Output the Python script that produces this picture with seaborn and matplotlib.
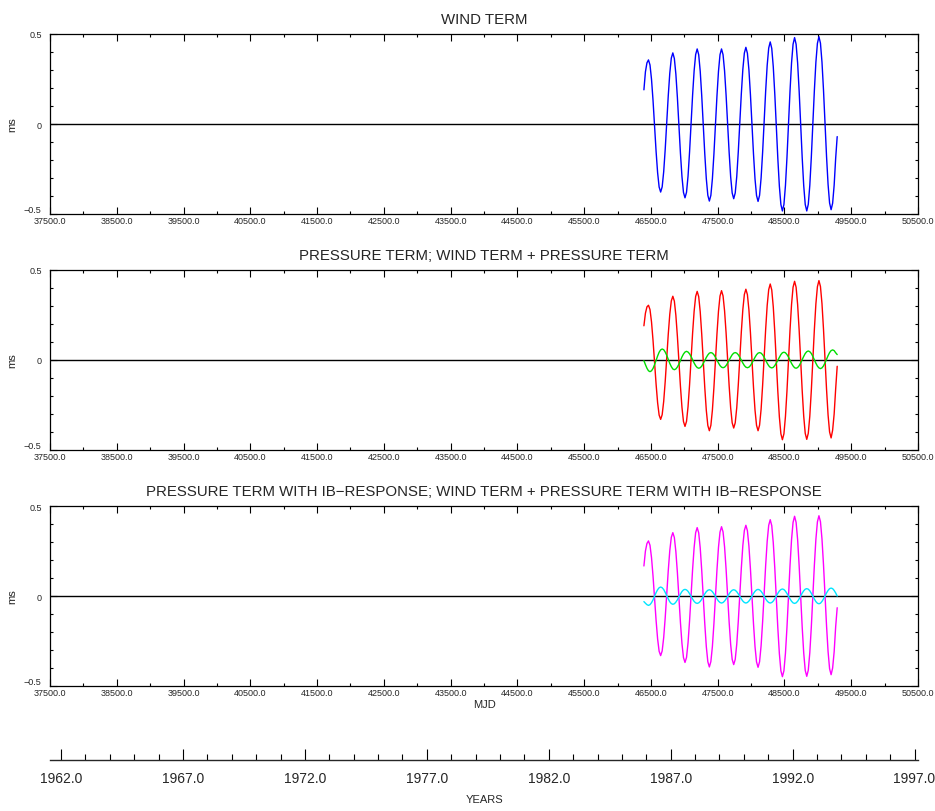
import numpy as np
import pandas as pd
import matplotlib
matplotlib.use("Agg")
import matplotlib.pyplot as plt
import seaborn as sns
from matplotlib.ticker import MultipleLocator, FixedLocator, FixedFormatter

sns.set_style("white")
plt.rcParams['font.family'] = ['Liberation Sans', 'DejaVu Sans']

# --- sampling grid of the series (MJD) ---
mjd_start, mjd_end, n_samples = 46395.0, 49290.0, 128
mjd = np.linspace(mjd_start, mjd_end, n_samples)

# --- values (ms) ---
wind = [
    0.19, 0.29, 0.34, 0.356,
    0.328, 0.248, 0.130, -0.011, -0.152, -0.270, -0.350, -0.378,
    -0.349, -0.265, -0.140, 0.009, 0.157, 0.282, 0.366, 0.395,
    0.364, 0.277, 0.147, -0.008, -0.162, -0.292, -0.380, -0.41,
    -0.379, -0.289, -0.155, 0.004, 0.162, 0.296, 0.386, 0.417,
    0.385, 0.293, 0.156, -0.006, -0.167, -0.304, -0.396, -0.428,
    -0.396, -0.304, -0.167, -0.006, 0.156, 0.293, 0.385, 0.417,
    0.385, 0.295, 0.160, 0.001, -0.158, -0.293, -0.383, -0.415,
    -0.383, -0.292, -0.156, 0.006, 0.167, 0.303, 0.394, 0.426,
    0.393, 0.301, 0.162, -0.002, -0.166, -0.305, -0.397, -0.43,
    -0.396, -0.300, -0.157, 0.013, 0.183, 0.326, 0.422, 0.456,
    0.420, 0.318, 0.166, -0.014, -0.193, -0.345, -0.447, -0.483,
    -0.447, -0.342, -0.186, -0.002, 0.183, 0.339, 0.443, 0.48,
    0.443, 0.339, 0.183, -0.002, -0.186, -0.342, -0.447, -0.483,
    -0.446, -0.341, -0.184, 0.001, 0.186, 0.343, 0.448, 0.485,
    0.449, 0.344, 0.189, 0.005, -0.180, -0.335, -0.439, -0.476,
    -0.44, -0.34, -0.19, -0.07,
]

pressure = [
    -0.004, -0.026, -0.046, -0.060, -0.065,
    -0.060, -0.047, -0.026, -0.002, 0.022, 0.043, 0.056, 0.061,
    0.057, 0.044, 0.026, 0.004, -0.019, -0.037, -0.050, -0.054,
    -0.050, -0.039, -0.023, -0.003, 0.017, 0.033, 0.044, 0.048,
    0.044, 0.034, 0.019, 0.001, -0.017, -0.032, -0.042, -0.046,
    -0.043, -0.034, -0.019, -0.003, 0.014, 0.028, 0.038, 0.041,
    0.038, 0.029, 0.015, -0.001, -0.017, -0.031, -0.040, -0.043,
    -0.040, -0.031, -0.017, -0.001, 0.015, 0.029, 0.038, 0.041,
    0.038, 0.029, 0.015, -0.001, -0.017, -0.031, -0.040, -0.043,
    -0.040, -0.031, -0.017, -0.001, 0.015, 0.029, 0.038, 0.041,
    0.038, 0.029, 0.015, -0.002, -0.018, -0.032, -0.041, -0.044,
    -0.041, -0.031, -0.017, -0.001, 0.016, 0.030, 0.040, 0.043,
    0.040, 0.030, 0.016, -0.002, -0.019, -0.033, -0.043, -0.046,
    -0.042, -0.032, -0.016, 0.002, 0.020, 0.036, 0.046, 0.050,
    0.046, 0.036, 0.020, 0.001, -0.018, -0.034, -0.044, -0.048,
    -0.044, -0.033, -0.016, 0.004, 0.024, 0.041, 0.052, 0.056,
    0.052, 0.040, 0.030,
]

wind_pressure = [
    0.19, 0.26, 0.295, 0.304,
    0.280, 0.211, 0.108, -0.013, -0.134, -0.237, -0.306, -0.330,
    -0.304, -0.230, -0.119, 0.012, 0.143, 0.254, 0.328, 0.354,
    0.327, 0.248, 0.131, -0.008, -0.146, -0.263, -0.342, -0.369,
    -0.341, -0.259, -0.138, 0.006, 0.150, 0.271, 0.353, 0.381,
    0.352, 0.268, 0.142, -0.006, -0.154, -0.280, -0.364, -0.393,
    -0.363, -0.279, -0.153, -0.004, 0.145, 0.271, 0.355, 0.385,
    0.356, 0.273, 0.150, 0.004, -0.143, -0.266, -0.349, -0.378,
    -0.349, -0.265, -0.140, 0.008, 0.155, 0.280, 0.364, 0.393,
    0.363, 0.278, 0.151, 0.000, -0.151, -0.278, -0.363, -0.393,
    -0.362, -0.274, -0.141, 0.015, 0.171, 0.303, 0.391, 0.422,
    0.389, 0.295, 0.155, -0.011, -0.176, -0.316, -0.410, -0.443,
    -0.410, -0.314, -0.172, -0.003, 0.166, 0.308, 0.404, 0.437,
    0.404, 0.308, 0.166, -0.002, -0.170, -0.312, -0.408, -0.441,
    -0.407, -0.312, -0.169, 0.000, 0.169, 0.312, 0.407, 0.441,
    0.408, 0.313, 0.171, 0.004, -0.163, -0.305, -0.400, -0.433,
    -0.39, -0.30, -0.16, -0.035,
]

pressure_ib = [
    -0.031, -0.040, -0.048, -0.052,
    -0.048, -0.037, -0.021, -0.001, 0.019, 0.035, 0.046, 0.050,
    0.046, 0.036, 0.020, 0.002, -0.016, -0.032, -0.042, -0.046,
    -0.043, -0.034, -0.021, -0.005, 0.011, 0.025, 0.034, 0.037,
    0.034, 0.026, 0.013, -0.002, -0.017, -0.030, -0.038, -0.041,
    -0.038, -0.030, -0.018, -0.003, 0.012, 0.024, 0.032, 0.035,
    0.032, 0.024, 0.012, -0.002, -0.016, -0.028, -0.036, -0.039,
    -0.036, -0.028, -0.016, -0.002, 0.012, 0.024, 0.032, 0.035,
    0.032, 0.024, 0.012, -0.002, -0.016, -0.028, -0.036, -0.039,
    -0.036, -0.028, -0.016, -0.001, 0.014, 0.026, 0.034, 0.037,
    0.034, 0.026, 0.014, -0.001, -0.016, -0.028, -0.036, -0.039,
    -0.036, -0.028, -0.015, 0.000, 0.015, 0.028, 0.036, 0.039,
    0.036, 0.027, 0.014, -0.001, -0.016, -0.029, -0.038, -0.041,
    -0.038, -0.029, -0.016, 0.000, 0.016, 0.029, 0.038, 0.041,
    0.038, 0.029, 0.015, -0.001, -0.017, -0.031, -0.040, -0.043,
    -0.040, -0.030, -0.016, 0.001, 0.017, 0.031, 0.041, 0.044,
    0.041, 0.031, 0.017, 0.000,
]

wind_pressure_ib = [
    0.167, 0.25, 0.292, 0.306,
    0.282, 0.213, 0.110, -0.013, -0.135, -0.238, -0.307, -0.331,
    -0.305, -0.231, -0.120, 0.011, 0.141, 0.252, 0.326, 0.352,
    0.325, 0.246, 0.130, -0.009, -0.147, -0.264, -0.342, -0.369,
    -0.341, -0.259, -0.138, 0.006, 0.149, 0.270, 0.352, 0.380,
    0.351, 0.267, 0.141, -0.007, -0.155, -0.281, -0.365, -0.394,
    -0.364, -0.280, -0.154, -0.005, 0.145, 0.271, 0.355, 0.385,
    0.356, 0.273, 0.149, 0.002, -0.145, -0.269, -0.352, -0.381,
    -0.352, -0.268, -0.142, 0.006, 0.154, 0.280, 0.364, 0.393,
    0.363, 0.277, 0.150, -0.002, -0.153, -0.281, -0.366, -0.396,
    -0.365, -0.276, -0.143, 0.014, 0.171, 0.304, 0.393, 0.424,
    0.391, 0.296, 0.155, -0.012, -0.179, -0.320, -0.415, -0.448,
    -0.415, -0.318, -0.174, -0.003, 0.169, 0.313, 0.409, 0.443,
    0.409, 0.313, 0.169, -0.002, -0.172, -0.316, -0.413, -0.446,
    -0.412, -0.315, -0.171, 0.000, 0.171, 0.315, 0.412, 0.446,
    0.413, 0.317, 0.174, 0.005, -0.165, -0.308, -0.404, -0.437,
    -0.40, -0.31, -0.17, -0.065,
]

mjd_ticks = np.arange(37500, 50501, 1000)
y_ticks = [-0.5, 0, 0.5]
y_ticklabels = ['\u22120.5', '0', '0.5']
year_ticks = np.arange(1962, 1998, 5)

panels = [
    ("WIND TERM", [(wind, "#0000ff")]),
    ("PRESSURE TERM; WIND TERM + PRESSURE TERM",
     [(wind_pressure, "#ff0000"), (pressure, "#00dd00")]),
    ("PRESSURE TERM WITH IB\u2212RESPONSE; WIND TERM + PRESSURE TERM WITH IB\u2212RESPONSE",
     [(wind_pressure_ib, "#ff00ff"), (pressure_ib, "#00e5ff")]),
]

fig = plt.figure(figsize=(9.35, 8.12), dpi=100)
left, width, height = 0.0535, 0.9283, 0.2217
bottoms = [0.7352, 0.4446, 0.1539]

for (title, series), bottom in zip(panels, bottoms):
    ax = fig.add_axes([left, bottom, width, height])
    ax.axhline(0, color='black', linewidth=1.0, zorder=1)
    for vals, col in series:
        df = pd.DataFrame({'MJD': mjd, 'value': vals})
        sns.lineplot(data=df, x='MJD', y='value', ax=ax, color=col,
                     linewidth=1.0, zorder=2)
    ax.set_xlim(37500, 50500)
    ax.set_ylim(-0.5, 0.5)
    ax.xaxis.set_major_locator(FixedLocator(mjd_ticks))
    ax.xaxis.set_minor_locator(MultipleLocator(500))
    ax.xaxis.set_major_formatter(lambda v, p: f"{v:.1f}")
    ax.yaxis.set_major_locator(FixedLocator(y_ticks))
    ax.yaxis.set_major_formatter(FixedFormatter(y_ticklabels))
    ax.yaxis.set_minor_locator(MultipleLocator(0.1))
    ax.tick_params(axis='both', which='both', direction='in',
                   top=True, bottom=True, left=True, right=True,
                   color='black', width=0.8)
    ax.tick_params(axis='both', which='major', length=5, labelsize=6.5)
    ax.tick_params(axis='x', which='major', pad=1.5)
    ax.tick_params(axis='y', which='major', pad=6)
    ax.tick_params(axis='both', which='minor', length=2.5)
    # lowest y label sits just above the x labels
    ax.get_yticklabels()[0].set_verticalalignment('bottom')
    for sp in ax.spines.values():
        sp.set_color('black')
        sp.set_linewidth(0.9)
    ax.set_title(title, fontsize=10.8, pad=8)
    ax.set_ylabel('ms', fontsize=8, labelpad=5)
    ax.set_xlabel('')

ax.set_xlabel('MJD', fontsize=8, labelpad=1)

# --- years axis below the panels ---
axy = fig.add_axes([left, 0.0625, width, 0.0001])
year_min = 1962 + (37500 - 37665) / 365.25
year_max = 1962 + (50500 - 37665) / 365.25
axy.set_xlim(year_min, year_max)
axy.set_yticks([])
for s in ['top', 'left', 'right']:
    axy.spines[s].set_visible(False)
axy.spines['bottom'].set_linewidth(1.0)
axy.xaxis.set_major_locator(FixedLocator(year_ticks))
axy.xaxis.set_minor_locator(MultipleLocator(1))
axy.xaxis.set_major_formatter(lambda v, p: f"{v:.1f}")
axy.tick_params(axis='x', which='both', direction='in', bottom=True,
                color='black', width=0.8)
axy.tick_params(axis='x', which='major', length=8, labelsize=10, pad=8)
axy.tick_params(axis='x', which='minor', length=4.5)
axy.set_xlabel('YEARS', fontsize=8, labelpad=6)

fig.savefig('out.png', dpi=100)
